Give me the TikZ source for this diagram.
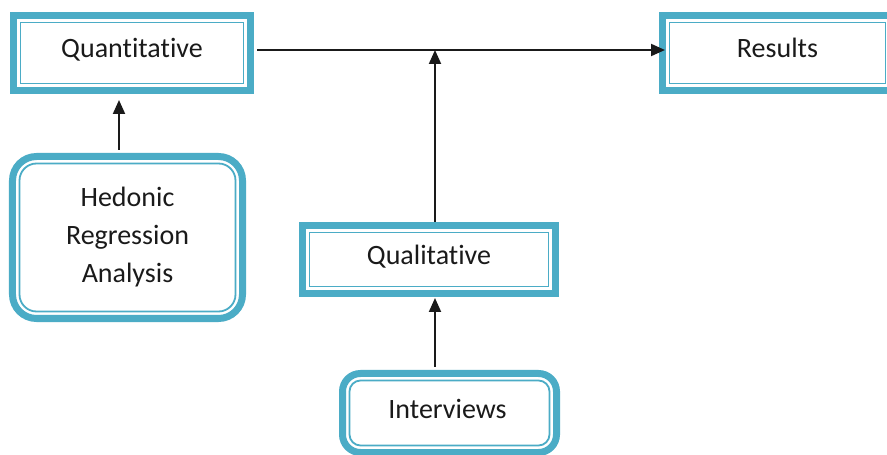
\documentclass[tikz,border=0pt]{standalone}
\usepackage{fontspec}
\setmainfont{Carlito}[Ligatures=NoCommon]
\usetikzlibrary{arrows.meta}
\definecolor{tealc}{HTML}{4BACC6}
\definecolor{inkc}{HTML}{1A1A1A}
\begin{document}
\begin{tikzpicture}[x=1bp,y=-1bp,
 boxnode/.style={draw=tealc, line width=7bp, outer sep=3.5bp, inner sep=0pt, text=inkc, align=center, font=\fontsize{28bp}{38bp}\selectfont},
 oneline/.style={text height=19bp, text depth=9bp},
 innerline/.style={draw=tealc, line width=1.8bp},
 conn/.style={draw=inkc, line width=2bp, -{Triangle[length=14bp,width=12bp]}},
]
\fill[white] (0,0) rectangle (887,455);
\useasboundingbox (0,0) rectangle (887,455);

% boxes
\node[boxnode, oneline, minimum width=237bp, minimum height=75bp] (quan) at (132,53) {Quantitative};
\node[boxnode, oneline, minimum width=230bp, minimum height=75bp] (res) at (777.5,53) {Results};
\node[boxnode, oneline, minimum width=253bp, minimum height=68bp] (qual) at (429,259.5) {Qualitative};
\node[boxnode, rounded corners=24bp, minimum width=230bp, minimum height=162bp] (hed) at (127.5,237.5) {Hedonic\\Regression\\Analysis};
\node[boxnode, oneline, rounded corners=18bp, minimum width=214bp, minimum height=79bp] (int) at (449.5,413) {\hspace*{-4bp}Interviews};

% inner thin lines
\draw[innerline] ([shift={(10.5,10.5)}]quan.north west) rectangle ([shift={(-10.5,-10.5)}]quan.south east);
\draw[innerline] ([shift={(10.5,10.5)}]res.north west) rectangle ([shift={(-10.5,-10.5)}]res.south east);
\draw[innerline] ([shift={(10.5,10.5)}]qual.north west) rectangle ([shift={(-10.5,-10.5)}]qual.south east);
\draw[innerline, rounded corners=17bp] ([shift={(10.5,10.5)}]hed.north west) rectangle ([shift={(-10.5,-10.5)}]hed.south east);
\draw[innerline, rounded corners=11bp] ([shift={(10.5,10.5)}]int.north west) rectangle ([shift={(-10.5,-10.5)}]int.south east);

% connectors
\coordinate (j) at (435,50);
\coordinate (a1) at (119,0);
\draw[conn, shorten <=3bp] (quan.east |- j) -- ([xshift=6bp]res.west |- j);
\draw[conn] (qual.north -| j) -- (j);
\draw[conn, shorten <=3bp] (int.north -| j) -- ([yshift=-1bp]qual.south -| j);
\draw[conn, shorten <=3bp] (hed.north -| a1) -- ([yshift=-6bp]quan.south -| a1);
\end{tikzpicture}
\end{document}
